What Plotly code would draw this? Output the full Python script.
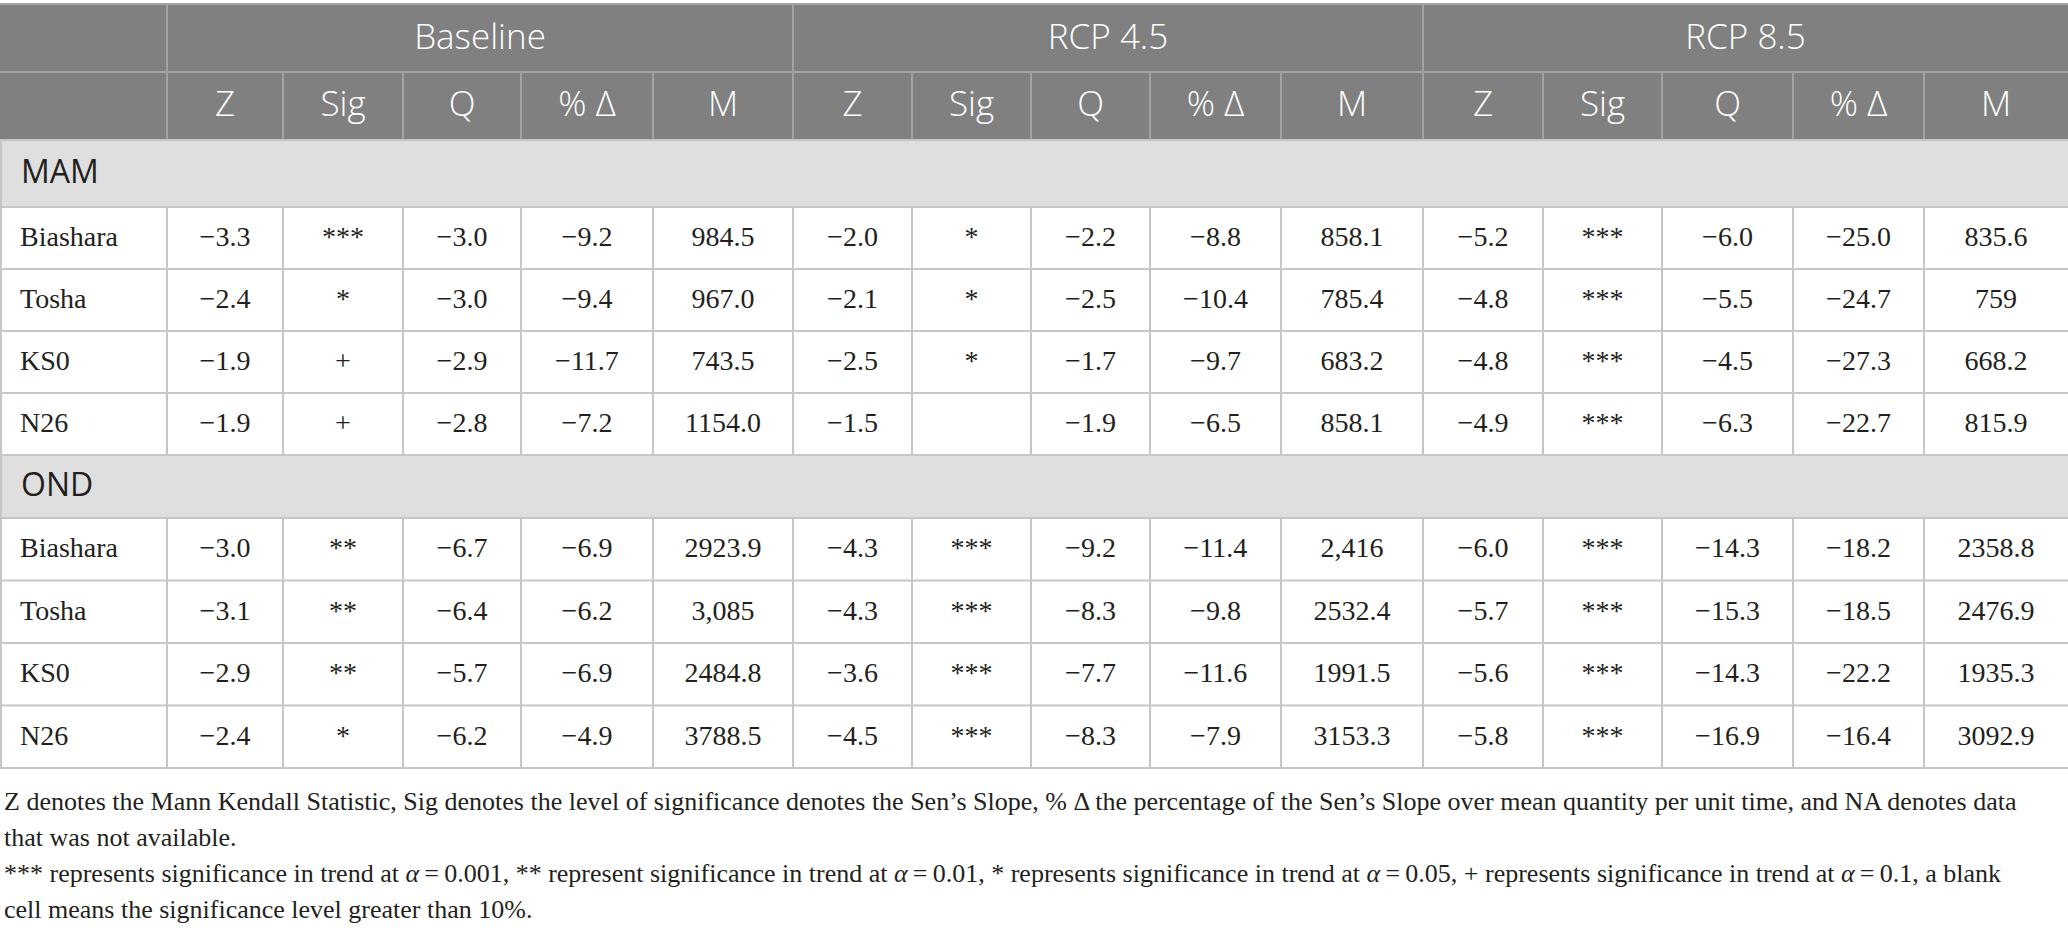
import plotly.graph_objects as go

# ---- table content ----
seasons = ["MAM", "OND"]
stations = ["Biashara", "Tosha", "KS0", "N26"]
scenarios = ["Baseline", "RCP 4.5", "RCP 8.5"]
sub_cols = ["Z", "Sig", "Q", "% Δ", "M"]

# rows: MAM Biashara, Tosha, KS0, N26, then OND Biashara, Tosha, KS0, N26
base_z = [-3.3, -2.4, -1.9, -1.9, -3.0, -3.1, -2.9, -2.4]
base_sig = ["***", "*", "+", "+", "**", "**", "**", "*"]
base_q = [-3.0, -3.0, -2.9, -2.8, -6.7, -6.4, -5.7, -6.2]
base_pct = [-9.2, -9.4, -11.7, -7.2, -6.9, -6.2, -6.9, -4.9]
base_m = ["984.5", "967.0", "743.5", "1154.0", "2923.9", "3,085", "2484.8", "3788.5"]

rcp45_z = [-2.0, -2.1, -2.5, -1.5, -4.3, -4.3, -3.6, -4.5]
rcp45_sig = ["*", "*", "*", "", "***", "***", "***", "***"]
rcp45_q = [-2.2, -2.5, -1.7, -1.9, -9.2, -8.3, -7.7, -8.3]
rcp45_pct = [-8.8, -10.4, -9.7, -6.5, -11.4, -9.8, -11.6, -7.9]
rcp45_m = ["858.1", "785.4", "683.2", "858.1", "2,416", "2532.4", "1991.5", "3153.3"]

rcp85_z = [-5.2, -4.8, -4.8, -4.9, -6.0, -5.7, -5.6, -5.8]
rcp85_sig = ["***", "***", "***", "***", "***", "***", "***", "***"]
rcp85_q = [-6.0, -5.5, -4.5, -6.3, -14.3, -15.3, -14.3, -16.9]
rcp85_pct = [-25.0, -24.7, -27.3, -22.7, -18.2, -18.5, -22.2, -16.4]
rcp85_m = ["835.6", "759", "668.2", "815.9", "2358.8", "2476.9", "1935.3", "3092.9"]

notes = [
    "Z denotes the Mann Kendall Statistic, Sig denotes the level of significance denotes the Sen’s Slope, "
    "% Δ the percentage of the Sen’s Slope over mean quantity per unit time, and NA denotes data",
    "that was not available.",
    "*** represents significance in trend at <i>α</i>\u2009=\u20090.001, ** represent significance in trend at "
    "<i>α</i>\u2009=\u20090.01, * represents significance in trend at <i>α</i>\u2009=\u20090.05, + represents "
    "significance in trend at <i>α</i>\u2009=\u20090.1, a blank",
    "cell means the significance level greater than 10%.",
]

# ---- layout geometry (pixels) ----
W, H = 2068, 933
col_w = [167, 116, 120, 118, 132, 140, 119, 119, 119, 131, 142, 120, 119, 131, 131, 144]
col_x = [0]
for w in col_w:
    col_x.append(col_x[-1] + w)
row_y = [4, 72, 140, 207, 269, 331, 393, 455, 518, 580.5, 643, 705.5, 768]
band_rows = {2: "MAM", 7: "OND"}  # index into row_y for section bands

HEAD_BG = "#7f807f"
HEAD_LINE = "#a3a3a3"
BAND_BG = "#e0dfe0"
GRID = "#c6c6c6"
INK = "#231f20"
SANS = "Open Sans, Noto Sans, sans-serif"
SERIF = "Liberation Serif, DejaVu Serif, serif"


def fmt(v):
    return f"{v:.1f}".replace("-", "\u2212")


fig = go.Figure()
shapes = []

# header background
shapes.append(dict(type="rect", x0=0, x1=W, y0=row_y[0], y1=row_y[2],
                   fillcolor=HEAD_BG, line_width=0, layer="below"))
# section bands
for r in band_rows:
    shapes.append(dict(type="rect", x0=0, x1=W, y0=row_y[r], y1=row_y[r + 1],
                       fillcolor=BAND_BG, line_width=0, layer="below"))

# header lines
shapes.append(dict(type="line", x0=0, x1=W, y0=row_y[0], y1=row_y[0],
                   line=dict(color=HEAD_LINE, width=2)))
shapes.append(dict(type="line", x0=0, x1=W, y0=row_y[1], y1=row_y[1],
                   line=dict(color=HEAD_LINE, width=2)))
for i in (1, 6, 11):
    shapes.append(dict(type="line", x0=col_x[i], x1=col_x[i], y0=row_y[0], y1=row_y[1],
                       line=dict(color=HEAD_LINE, width=2)))
for i in range(1, len(col_x) - 1):
    shapes.append(dict(type="line", x0=col_x[i], x1=col_x[i], y0=row_y[1], y1=row_y[2],
                       line=dict(color=HEAD_LINE, width=2)))

# body horizontal lines
for k in range(2, len(row_y)):
    shapes.append(dict(type="line", x0=0, x1=W, y0=row_y[k], y1=row_y[k],
                       line=dict(color=GRID, width=2)))
# body vertical lines (skip section bands)
for k in range(2, len(row_y) - 1):
    if k in band_rows:
        continue
    for i in range(1, len(col_x) - 1):
        shapes.append(dict(type="line", x0=col_x[i], x1=col_x[i], y0=row_y[k], y1=row_y[k + 1],
                           line=dict(color=GRID, width=2)))
# left border of body
shapes.append(dict(type="line", x0=1, x1=1, y0=row_y[2], y1=row_y[-1],
                   line=dict(color=GRID, width=2)))

# header text
hx, hy, ht = [], [], []
for s, name in enumerate(scenarios):
    a, b = col_x[1 + 5 * s], col_x[6 + 5 * s]
    hx.append((a + b) / 2)
    hy.append((row_y[0] + row_y[1]) / 2 + 2)
    ht.append(name)
    for j, c in enumerate(sub_cols):
        i = 1 + 5 * s + j
        hx.append((col_x[i] + col_x[i + 1]) / 2)
        hy.append((row_y[1] + row_y[2]) / 2 + 1)
        ht.append(c)
fig.add_trace(go.Scatter(x=hx, y=hy, text=ht, mode="text", textposition="middle center",
                         textfont=dict(family=SANS, size=35, color="white", weight=300),
                         hoverinfo="skip"))

# section band labels
fig.add_trace(go.Scatter(
    x=[21] * len(band_rows),
    y=[(row_y[r] + row_y[r + 1]) / 2 + 1 for r in band_rows],
    text=list(band_rows.values()), mode="text", textposition="middle right",
    textfont=dict(family=SANS, size=32, color=INK), hoverinfo="skip"))

# body rows
body_rows = [3, 4, 5, 6, 8, 9, 10, 11]
columns = [
    [fmt(v) for v in base_z], base_sig, [fmt(v) for v in base_q], [fmt(v) for v in base_pct], base_m,
    [fmt(v) for v in rcp45_z], rcp45_sig, [fmt(v) for v in rcp45_q], [fmt(v) for v in rcp45_pct], rcp45_m,
    [fmt(v) for v in rcp85_z], rcp85_sig, [fmt(v) for v in rcp85_q], [fmt(v) for v in rcp85_pct], rcp85_m,
]

sx, sy, st = [], [], []
cx, cy, ct = [], [], []
for n, r in enumerate(body_rows):
    yc = (row_y[r] + row_y[r + 1]) / 2 + 1
    sx.append(20)
    sy.append(yc)
    st.append(stations[n % 4])
    for j, col in enumerate(columns):
        cx.append((col_x[j + 1] + col_x[j + 2]) / 2)
        cy.append(yc)
        ct.append(col[n])

fig.add_trace(go.Scatter(x=sx, y=sy, text=st, mode="text", textposition="middle right",
                         textfont=dict(family=SERIF, size=28, color=INK), hoverinfo="skip"))
fig.add_trace(go.Scatter(x=cx, y=cy, text=ct, mode="text", textposition="middle center",
                         textfont=dict(family=SERIF, size=28, color=INK), hoverinfo="skip"))

# footnotes
annotations = []
for k, line in enumerate(notes):
    annotations.append(dict(x=2, y=801 + 36 * k, xref="x", yref="y", text=line,
                            showarrow=False, xanchor="left", yanchor="middle",
                            font=dict(family=SERIF, size=26, color=INK)))

fig.update_layout(
    width=W, height=H,
    margin=dict(l=0, r=0, t=0, b=0),
    paper_bgcolor="white", plot_bgcolor="white",
    showlegend=False,
    shapes=shapes,
    annotations=annotations,
    xaxis=dict(range=[0, W], visible=False, fixedrange=True),
    yaxis=dict(range=[H, 0], visible=False, fixedrange=True),
)

# page body has a default 8px margin; drop it so the table sits flush like the reference
fig.write_html("out.html", config={"displayModeBar": False},
               post_script="document.body.style.margin='0';")
